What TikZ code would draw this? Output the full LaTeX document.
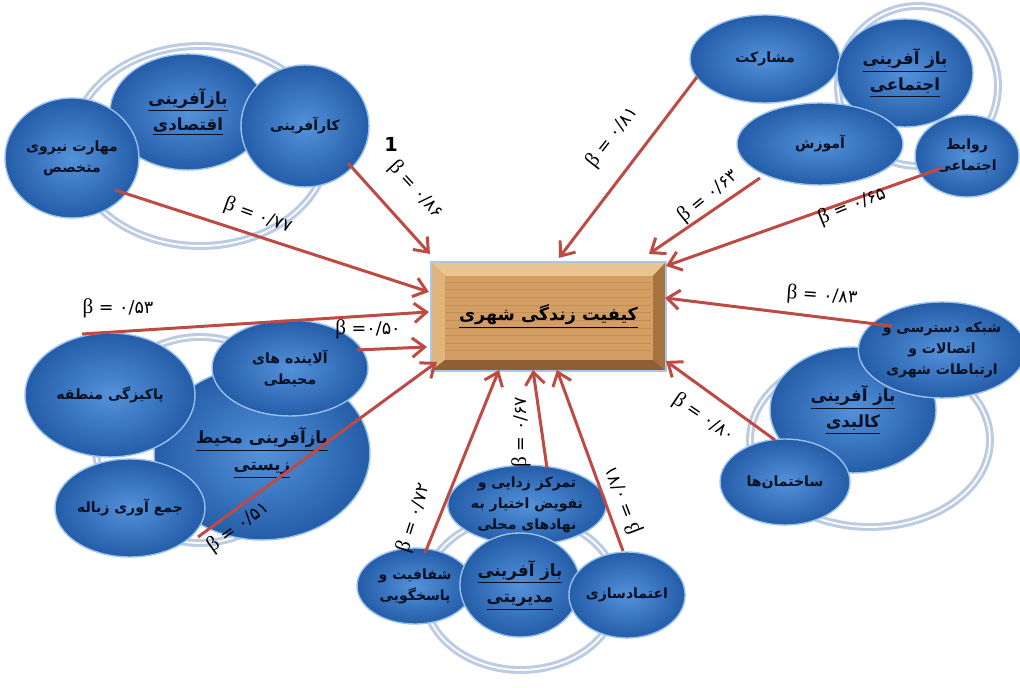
\documentclass[tikz,border=0pt]{standalone}
\usepackage{fontspec}
\setmainfont{DejaVu Sans}
\newfontfamily\fa[Script=Arabic]{DejaVu Sans}
\newfontfamily\lser{Liberation Serif}
\TeXXeTstate=1
\usetikzlibrary{shapes.geometric,arrows.meta,calc}
\newcommand\FaT[1]{\beginR#1\endR}
\newcommand\blab[1]{{\lser\fontsize{12}{12}\selectfont β} = {\fa #1}}
\definecolor{bubin}{RGB}{84,146,218}
\definecolor{bubout}{RGB}{36,92,168}
\definecolor{bubrim}{RGB}{150,192,238}
\definecolor{bubtxt}{RGB}{8,16,34}
\definecolor{arrc}{RGB}{190,74,68}
\definecolor{ringc}{RGB}{188,204,226}
\definecolor{woodmid}{RGB}{210,158,100}
\definecolor{woodtop}{RGB}{234,196,142}
\definecolor{woodleft}{RGB}{224,180,124}
\definecolor{woodright}{RGB}{166,114,62}
\definecolor{woodbot}{RGB}{142,95,52}
\definecolor{woodgrain}{RGB}{186,132,78}
\definecolor{woodglow}{RGB}{170,198,232}
\begin{document}
\begin{tikzpicture}[x=0.02cm,y=-0.02cm,
  bub/.style n args={2}{ellipse, minimum width=#1*0.04cm, minimum height=#2*0.04cm,
    inner sep=0pt, inner color=bubin, outer color=bubout, draw=bubrim, line width=0.8pt,
    text=bubtxt, align=center, font=\fa\bfseries\fontsize{8}{12}\selectfont},
  mainbub/.style={font=\fa\bfseries\fontsize{9.5}{15}\selectfont},
  ringst/.style={draw=ringc, line width=4.5pt},
  ringhi/.style={draw=white, line width=1pt},
  arr/.style={draw=arrc, line width=1.7pt, -{Straight Barb[length=7pt,width=11pt]}},
  blabel/.style={font=\fontsize{10}{12}\selectfont, text=black, inner sep=1pt},
]
\useasboundingbox (0,0) rectangle (1020,688);

% ---------- rings ----------
\foreach \cx/\cy/\rx/\ry in {200/146/128/100, 918/86/80/80, 200/440/105/103, 870/440/120/87, 521/593/97/77}{
  \draw[ringst] (\cx,\cy) ellipse [x radius=\rx, y radius=\ry];
  \draw[ringhi] (\cx,\cy) ellipse [x radius=\rx, y radius=\ry];
}

% ---------- economic ----------
\node[bub={78}{58}, mainbub] (econ) at (188,112) {\underline{\FaT{بازآفرینی}}\\\underline{\FaT{اقتصادی}}};
\node[bub={67}{60}] (mahar) at (72,158) {\FaT{مهارت نیروی}\\\FaT{متخصص}};
\node[bub={64}{61}] (karaf) at (305,126) {\FaT{کارآفرینی}};

% ---------- social ----------
\node[bub={75}{44}] (mosh) at (765,59) {\FaT{مشارکت}};
\node[bub={68}{54}, mainbub] (soc) at (905,73) {\underline{\FaT{باز آفرینی}}\\\underline{\FaT{اجتماعی}}};
\node[bub={83}{41}] (amoz) at (820,144) {\FaT{آموزش}};
\node[bub={52}{41}] (ravab) at (967,156) {\FaT{روابط}\\\FaT{اجتماعی}};

% ---------- environment ----------
\node[bub={108}{87}, mainbub] (env) at (262,453) {\underline{\FaT{بازآفرینی محیط}}\\\underline{\FaT{زیستی}}};
\node[bub={85}{62}] (pak) at (110,395) {\FaT{پاکیزگی منطقه}};
\node[bub={78}{48}] (alay) at (290,368) {\FaT{آلاینده های}\\\FaT{محیطی}};
\node[bub={75}{49}] (jam) at (130,508) {\FaT{جمع آوری زباله}};

% ---------- physical ----------
\node[bub={83}{63}, mainbub] (kalb) at (853,410) {\underline{\FaT{باز آفرینی}}\\\underline{\FaT{کالبدی}}};
\node[bub={76}{48}] (shab) at (942,350) {\FaT{شبکه دسترسی و}\\\FaT{اتصالات و}\\\FaT{ارتباطات شهری}};
\node[bub={65}{43}] (sakht) at (785,482) {\FaT{ساختمان‌ها}};

% ---------- management ----------
\node[bub={78}{33}] (tam) at (527,505) {\FaT{تمرکز زدایی و}\\\FaT{تفویض اختیار به}\\\FaT{نهادهای محلی}};
\node[bub={58}{38}] (shaf) at (415,586) {\FaT{شفافیت و}\\\FaT{پاسخگویی}};
\node[bub={60}{52}, mainbub] (modir) at (520,585) {\underline{\FaT{باز آفرینی}}\\\underline{\FaT{مدیریتی}}};
\node[bub={57}{43}] (etem) at (627,595) {\FaT{اعتمادسازی}};

% ---------- central box ----------
\node[minimum width=233*0.02cm, minimum height=107*0.02cm, inner sep=0pt, fill=woodmid, draw=woodglow, line width=1.2pt] (box) at (548.5,316.5) {};
\foreach \yy in {20,27,35,43,50,58,66,73,81,88}{
  \draw[woodgrain, line width=0.5pt, opacity=0.6] ($(box.north west)+(14,\yy)$) -- ++(206,0);
}
\fill[woodtop] (box.north west) -- (box.north east) -- ($(box.north east)+(-13,14)$) -- ($(box.north west)+(14,14)$) -- cycle;
\fill[woodleft] (box.north west) -- ($(box.north west)+(14,14)$) -- ($(box.south west)+(14,-11)$) -- (box.south west) -- cycle;
\fill[woodright] (box.north east) -- ($(box.north east)+(-13,14)$) -- ($(box.south east)+(-13,-11)$) -- (box.south east) -- cycle;
\fill[woodbot] (box.south west) -- ($(box.south west)+(14,-11)$) -- ($(box.south east)+(-13,-11)$) -- (box.south east) -- cycle;
\draw[woodglow, line width=1.2pt] (box.north west) rectangle (box.south east);
\node[font=\fa\bfseries\fontsize{10}{12}\selectfont, text=black] (boxt) at (box.center) {\underline{\FaT{کیفیت زندگی شهری}}};

% ---------- arrows ----------
\draw[arr] ($(mahar)+(43,32)$) -- ($(box.north west)+(-2,30)$);
\draw[arr] ($(karaf)+(43,37)$) -- ($(box.north west)+(-1,-8)$);
\draw[arr] ($(mosh)+(-68,18)$) -- ($(box.north west)+(128,-4)$);
\draw[arr] ($(amoz)+(-60,34)$) -- ($(box.north west)+(218,-8)$);
\draw[arr] ($(ravab)+(-25,12)$) -- ($(box.north west)+(235,4)$);
\draw[arr] ($(shab)+(-50,-24)$) -- ($(box.north west)+(234,36)$);
\draw[arr] ($(sakht)+(-10,-42)$) -- ($(box.north west)+(235,99)$);
\draw[arr] ($(etem)+(-4,-44)$) -- ($(box.north west)+(126,108)$);
\draw[arr] ($(tam)+(20,-37)$) -- ($(box.north west)+(102,108)$);
\draw[arr] ($(shaf)+(10,-33)$) -- ($(box.north west)+(68,108)$);
\draw[arr] ($(jam)+(68,29)$) -- ($(box.north west)+(6,100)$);
\draw[arr] ($(alay)+(67,-18)$) -- ($(box.north west)+(-4,85)$);
\draw[arr] ($(pak)+(-28,-61)$) -- ($(box.north west)+(-2,50)$);

% ---------- labels ----------
\node[blabel, rotate=-20] (l77) at (258,216) {\blab{۰/۷۷}};
\node[blabel, rotate=-47] (l86) at (416,190) {\blab{۰/۸۶}};
\node[font=\bfseries\fontsize{11}{12}\selectfont] (one) at (391,144) {1};
\node[blabel, rotate=52] (l81) at (612,137) {\blab{۰/۸۱}};
\node[blabel, rotate=39] (l63) at (708,196) {\blab{۰/۶۳}};
\node[blabel, rotate=22] (l65) at (852,206) {\blab{۰/۶۵}};
\node[blabel, rotate=-4] (l83) at (822,296) {\blab{۰/۸۳}};
\node[blabel, rotate=-34] (l80) at (704,418) {\blab{۰/۸۰}};
\node[blabel] (l53) at (118,308) {\blab{۰/۵۳}};
\node[blabel] (l50) at (368,329) {{\lser\fontsize{12}{12}\selectfont β} ={\fa ۰/۵۰}};
\node[blabel, rotate=36] (l51) at (238,527) {\blab{۰/۵۱}};
\node[blabel, rotate=72] (l72) at (414,518) {\blab{۰/۷۲}};
\node[blabel, rotate=90] (l67) at (521,432) {\blab{۰/۶۷}};
\node[blabel, rotate=111] (l71) at (623,500) {\blab{۰/۷۱}};
\end{tikzpicture}
\end{document}
